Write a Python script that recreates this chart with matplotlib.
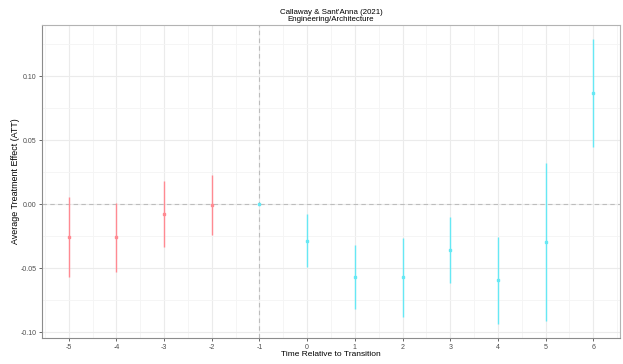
import numpy as np
import matplotlib.pyplot as plt
from matplotlib.ticker import MultipleLocator, FuncFormatter

# ---------------------------------------------------------------
# Data
# ---------------------------------------------------------------
pre_t = [-5, -4, -3, -2]
pre_att = [-0.0253, -0.0255, -0.0076, -0.0005]
pre_lo = [-0.0566, -0.0526, -0.0334, -0.0240]
pre_hi = [0.0055, 0.0008, 0.0182, 0.0229]

post_t = [-1, 0, 1, 2, 3, 4, 5, 6]
post_att = [0.0, -0.0284, -0.0568, -0.0565, -0.0357, -0.0594, -0.0295, 0.0872]
post_lo = [0.0, -0.0492, -0.0820, -0.0878, -0.0617, -0.0935, -0.0912, 0.0450]
post_hi = [0.0, -0.0076, -0.0318, -0.0261, -0.0099, -0.0253, 0.0325, 0.1290]

x_ticks = list(range(-5, 7))

title_1 = "Callaway & Sant'Anna (2021)"
title_2 = "Engineering/Architecture"
xlabel = "Time Relative to Transition"
ylabel = "Average Treatment Effect (ATT)"

red = "#ff8a92"
cyan = "#66e8f4"

# ---------------------------------------------------------------
# Plot
# ---------------------------------------------------------------
plt.rcParams["font.family"] = ["Liberation Sans", "DejaVu Sans"]
plt.rcParams["axes.unicode_minus"] = False

fig = plt.figure(figsize=(6.23, 3.64), dpi=100)
ax = fig.add_axes([42 / 623, 1 - 338 / 364, (620 - 42) / 623, (338 - 25) / 364])

ax.set_xlim(-5.56, 6.56)
ax.set_ylim(-0.1045, 0.140)

ax.xaxis.set_major_locator(MultipleLocator(1))
ax.xaxis.set_minor_locator(MultipleLocator(0.5))
ax.yaxis.set_major_locator(MultipleLocator(0.05))
ax.yaxis.set_minor_locator(MultipleLocator(0.025))
ax.grid(True, which="major", color="#ebebeb", lw=0.8, zorder=0)
ax.grid(True, which="minor", color="#f4f4f4", lw=0.6, zorder=0)
ax.set_axisbelow(True)

ax.axhline(0, color="#bdbdbd", lw=0.8, ls=(0, (4, 3)), zorder=1)
ax.axvline(-1, color="#bdbdbd", lw=0.8, ls=(0, (4, 3)), zorder=1)

pre_err = [np.array(pre_att) - np.array(pre_lo), np.array(pre_hi) - np.array(pre_att)]
post_err = [np.array(post_att) - np.array(post_lo), np.array(post_hi) - np.array(post_att)]
ax.errorbar(pre_t, pre_att, yerr=pre_err, fmt="s", ms=1.6, color=red, ecolor=red,
            elinewidth=1.0, capsize=0, zorder=3)
ax.errorbar(post_t, post_att, yerr=post_err, fmt="s", ms=1.6, color=cyan, ecolor=cyan,
            elinewidth=1.0, capsize=0, zorder=3)

ax.set_xticks(x_ticks)
ax.yaxis.set_major_formatter(FuncFormatter(lambda v, p: f"{v:.2f}".replace("-0.00", "0.00")))
ax.tick_params(axis="both", which="major", labelsize=5, colors="#4d4d4d", length=2.5,
               width=0.6, pad=1.5)
ax.tick_params(axis="both", which="minor", length=0)

for side in ["top", "right"]:
    ax.spines[side].set_color("#b3b3b3")
    ax.spines[side].set_linewidth(0.8)
for side in ["left", "bottom"]:
    ax.spines[side].set_color("#8c8c8c")
    ax.spines[side].set_linewidth(0.8)

fig.text(331 / 623, 1 - 354 / 364, xlabel, fontsize=6, ha="center", va="center")
fig.text(16 / 623, 1 - 181 / 364, ylabel, fontsize=6.4, ha="center", va="center", rotation=90)
fig.text(331 / 623, 1 - 12.7 / 364, title_1, fontsize=5.7, ha="center", va="center")
fig.text(331 / 623, 1 - 19.5 / 364, title_2, fontsize=5.7, ha="center", va="center")

fig.savefig("out.png", dpi=100)
